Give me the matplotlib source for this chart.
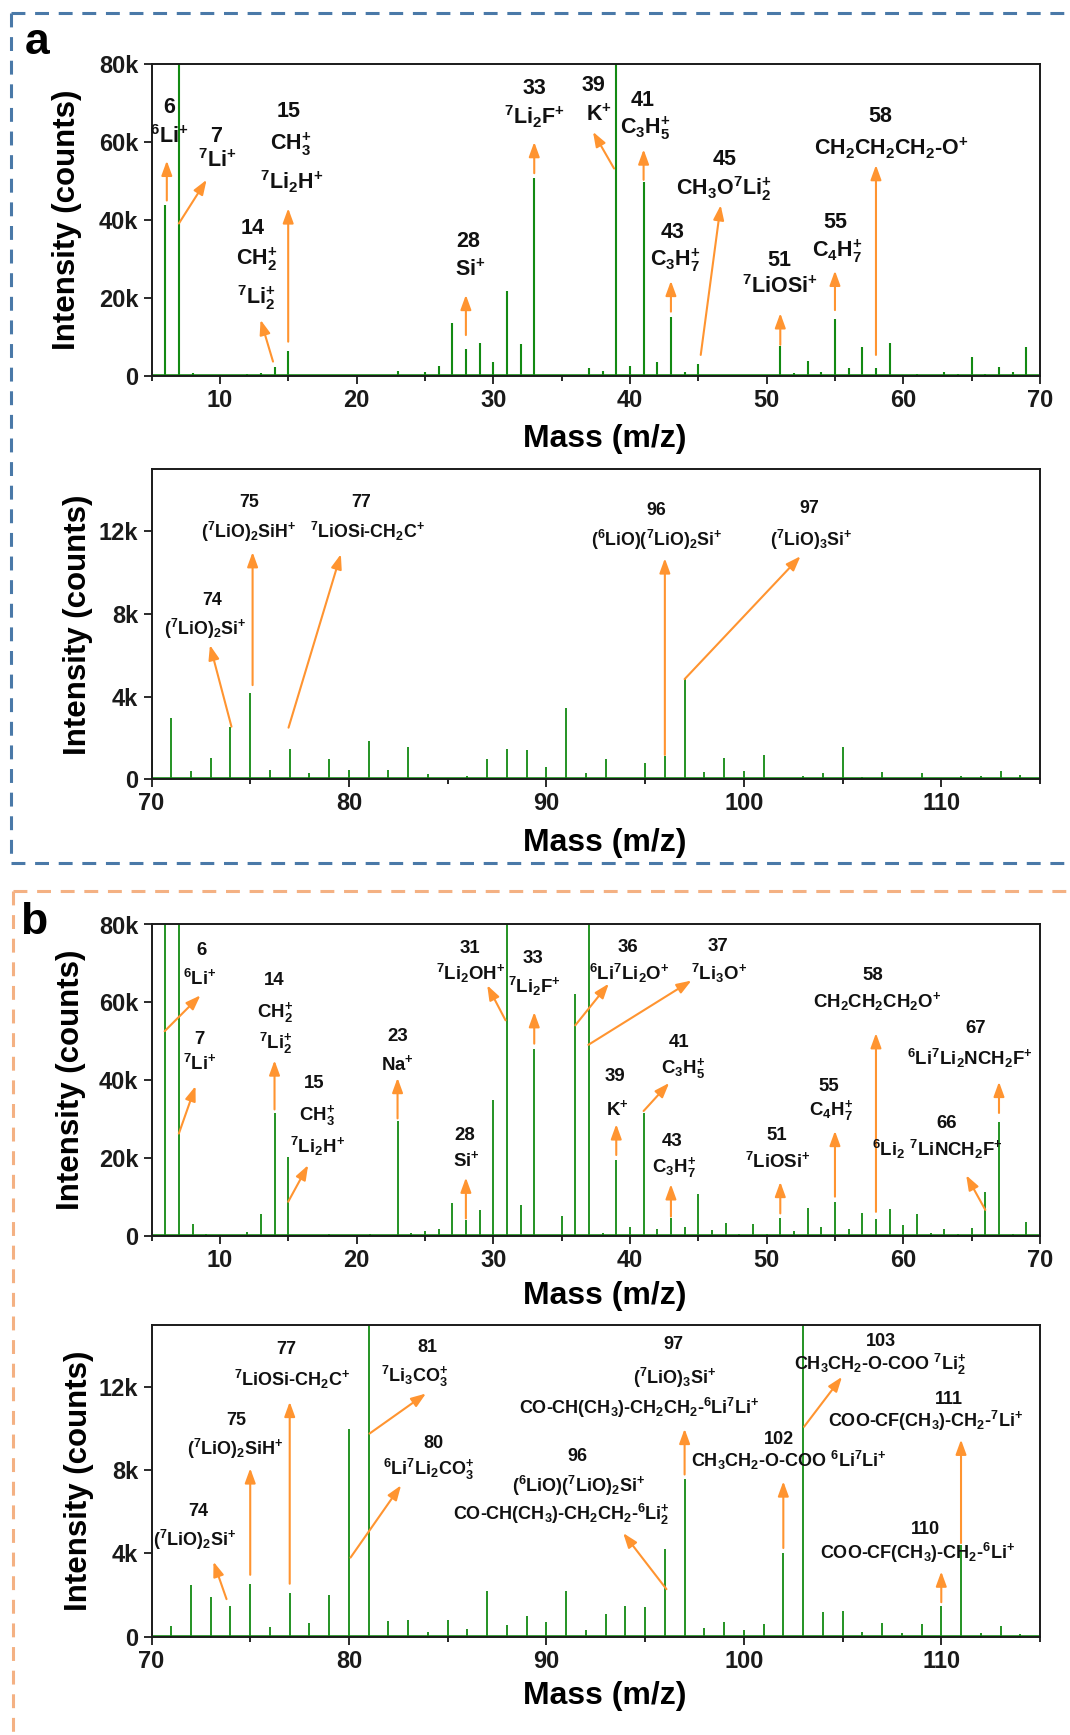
import matplotlib
matplotlib.use("Agg")
import matplotlib.pyplot as plt
from matplotlib.ticker import MultipleLocator, FuncFormatter
from matplotlib.lines import Line2D

plt.rcParams["font.family"] = ["Liberation Sans", "DejaVu Sans"]
plt.rcParams["font.weight"] = "bold"
plt.rcParams["mathtext.fontset"] = "custom"
plt.rcParams["mathtext.rm"] = "Liberation Sans:bold"
plt.rcParams["mathtext.bf"] = "Liberation Sans:bold"
plt.rcParams["mathtext.it"] = "Liberation Sans:bold"
plt.rcParams["mathtext.sf"] = "Liberation Sans:bold"
plt.rcParams["mathtext.default"] = "regular"
plt.rcParams["lines.scale_dashes"] = False

# ---------------------------------------------------------------- data
# (a) low-mass range, m/z 5-70 (counts; off-scale peaks exceed 80k)
a_low_mass = [6, 7, 8, 12, 13, 14, 15, 23, 25, 26, 27, 28, 29, 30, 31, 32, 33,
              37, 38, 39, 40, 41, 42, 43, 44, 45, 46, 47, 51, 52, 53, 54, 55,
              56, 57, 58, 59, 61, 63, 64, 65, 66, 67, 68, 69]
a_low_counts = [43800, 120000, 700, 500, 800, 2400, 6500, 1200, 900, 2600,
                13700, 7000, 8400, 3700, 21800, 8100, 50700, 2100, 1400,
                120000, 2600, 49800, 3500, 15200, 900, 3200, 300, 300, 7800,
                700, 3900, 900, 14700, 2100, 7500, 2000, 8400, 600, 1100, 400,
                4800, 500, 2400, 900, 7500]

# (a) high-mass range, m/z 70-115
a_high_mass = [70, 71, 72, 73, 74, 75, 76, 77, 78, 79, 80, 81, 82, 83, 84, 86,
               87, 88, 89, 90, 91, 92, 93, 95, 96, 97, 98, 99, 100, 101, 103,
               104, 105, 106, 107, 109, 111, 112, 113, 114]
a_high_counts = [1000, 2950, 400, 1050, 2550, 4180, 450, 1480, 320, 970, 450,
                 1850, 450, 1550, 260, 160, 970, 1460, 1420, 580, 3470, 290,
                 970, 770, 1130, 4850, 370, 1050, 400, 1160, 180, 290, 1550,
                 130, 350, 320, 180, 160, 420, 230]

# (b) low-mass range, m/z 5-70
b_low_mass = [6, 7, 8, 9, 12, 13, 14, 15, 16, 17, 18, 19, 20, 21, 22, 23, 24,
              25, 26, 27, 28, 29, 30, 31, 32, 33, 35, 36, 37, 38, 39, 40, 41,
              42, 43, 44, 45, 46, 47, 48, 49, 50, 51, 52, 53, 54, 55, 56, 57,
              58, 59, 60, 61, 62, 63, 64, 65, 66, 67, 68, 69]
b_low_counts = [120000, 120000, 3000, 400, 1100, 5600, 31500, 20200, 300, 300,
                400, 300, 300, 400, 300, 29600, 700, 1300, 1800, 8500, 4100,
                6700, 35000, 120000, 7900, 47900, 5200, 62200, 120000, 850,
                19500, 2400, 31700, 1800, 4500, 2400, 10800, 1500, 3400, 400,
                3200, 500, 4700, 1400, 7100, 2400, 8800, 1700, 5800, 4400,
                7000, 2800, 5600, 700, 1900, 400, 2100, 11400, 29300, 500, 3700]

# (b) high-mass range, m/z 70-115
b_high_mass = [70, 71, 72, 73, 74, 75, 76, 77, 78, 79, 80, 81, 82, 83, 84, 85,
               86, 87, 88, 89, 90, 91, 92, 93, 94, 95, 96, 97, 98, 99, 100,
               101, 102, 103, 104, 105, 106, 107, 108, 109, 110, 111, 112, 113,
               114]
b_high_counts = [300, 500, 2500, 1900, 1480, 2540, 480, 2090, 670, 2000, 10000,
                 20000, 750, 790, 240, 800, 370, 2200, 560, 1000, 700, 2200,
                 300, 1080, 1480, 1410, 4220, 7600, 400, 700, 320, 600, 4000,
                 20000, 1170, 1250, 200, 670, 160, 610, 1490, 4400, 160, 500,
                 100]

# ion assignments, one entry per labelled peak
a_low_ions = {
    6: [r"${}^{6}$Li$^{+}$"],
    7: [r"${}^{7}$Li$^{+}$"],
    14: [r"CH${}_{2}^{+}$", r"${}^{7}$Li${}_{2}^{+}$"],
    15: [r"CH${}_{3}^{+}$", r"${}^{7}$Li${}_{2}$H$^{+}$"],
    28: [r"Si$^{+}$"],
    33: [r"${}^{7}$Li${}_{2}$F$^{+}$"],
    39: [r"K$^{+}$"],
    41: [r"C${}_{3}$H${}_{5}^{+}$"],
    43: [r"C${}_{3}$H${}_{7}^{+}$"],
    45: [r"CH${}_{3}$O${}^{7}$Li${}_{2}^{+}$"],
    51: [r"${}^{7}$LiOSi$^{+}$"],
    55: [r"C${}_{4}$H${}_{7}^{+}$"],
    58: [r"CH${}_{2}$CH${}_{2}$CH${}_{2}$-O$^{+}$"],
}
a_high_ions = {
    74: [r"(${}^{7}$LiO)${}_{2}$Si$^{+}$"],
    75: [r"(${}^{7}$LiO)${}_{2}$SiH$^{+}$"],
    77: [r"${}^{7}$LiOSi-CH${}_{2}$C$^{+}$"],
    96: [r"(${}^{6}$LiO)(${}^{7}$LiO)${}_{2}$Si$^{+}$"],
    97: [r"(${}^{7}$LiO)${}_{3}$Si$^{+}$"],
}
b_low_ions = {
    6: [r"${}^{6}$Li$^{+}$"],
    7: [r"${}^{7}$Li$^{+}$"],
    14: [r"CH${}_{2}^{+}$", r"${}^{7}$Li${}_{2}^{+}$"],
    15: [r"CH${}_{3}^{+}$", r"${}^{7}$Li${}_{2}$H$^{+}$"],
    23: [r"Na$^{+}$"],
    28: [r"Si$^{+}$"],
    31: [r"${}^{7}$Li${}_{2}$OH$^{+}$"],
    33: [r"${}^{7}$Li${}_{2}$F$^{+}$"],
    36: [r"${}^{6}$Li${}^{7}$Li${}_{2}$O$^{+}$"],
    37: [r"${}^{7}$Li${}_{3}$O$^{+}$"],
    39: [r"K$^{+}$"],
    41: [r"C${}_{3}$H${}_{5}^{+}$"],
    43: [r"C${}_{3}$H${}_{7}^{+}$"],
    51: [r"${}^{7}$LiOSi$^{+}$"],
    55: [r"C${}_{4}$H${}_{7}^{+}$"],
    58: [r"CH${}_{2}$CH${}_{2}$CH${}_{2}$O$^{+}$"],
    66: [r"${}^{6}$Li${}_{2}$ ${}^{7}$LiNCH${}_{2}$F$^{+}$"],
    67: [r"${}^{6}$Li${}^{7}$Li${}_{2}$NCH${}_{2}$F$^{+}$"],
}
b_high_ions = {
    74: [r"(${}^{7}$LiO)${}_{2}$Si$^{+}$"],
    75: [r"(${}^{7}$LiO)${}_{2}$SiH$^{+}$"],
    77: [r"${}^{7}$LiOSi-CH${}_{2}$C$^{+}$"],
    80: [r"${}^{6}$Li${}^{7}$Li${}_{2}$CO${}_{3}^{+}$"],
    81: [r"${}^{7}$Li${}_{3}$CO${}_{3}^{+}$"],
    96: [r"(${}^{6}$LiO)(${}^{7}$LiO)${}_{2}$Si$^{+}$",
         r"CO-CH(CH${}_{3}$)-CH${}_{2}$CH${}_{2}$-${}^{6}$Li${}_{2}^{+}$"],
    97: [r"(${}^{7}$LiO)${}_{3}$Si$^{+}$",
         r"CO-CH(CH${}_{3}$)-CH${}_{2}$CH${}_{2}$-${}^{6}$Li${}^{7}$Li$^{+}$"],
    102: [r"CH${}_{3}$CH${}_{2}$-O-COO ${}^{6}$Li${}^{7}$Li$^{+}$"],
    103: [r"CH${}_{3}$CH${}_{2}$-O-COO ${}^{7}$Li${}_{2}^{+}$"],
    110: [r"COO-CF(CH${}_{3}$)-CH${}_{2}$-${}^{6}$Li$^{+}$"],
    111: [r"COO-CF(CH${}_{3}$)-CH${}_{2}$-${}^{7}$Li$^{+}$"],
}

# --------------------------------------------------------------- layout
# label placement: mass -> ([(x, y) per text line, mass number first],
#                            arrow tail (x, y), arrow head (x, y))
a_low_layout = {
    6: ([(6.26, 68900), (6.3, 61400)], (6.12, 45000), (6.12, 55200)),
    7: ([(9.74, 61500), (9.8, 55200)], (7.0, 39100), (9.03, 50300)),
    15: ([(15.0, 67800), (15.2, 59500), (15.25, 49800)], (15.0, 8800), (15.0, 43000)),
    14: ([(12.43, 37900), (12.7, 30000), (12.7, 20100)], (13.89, 3700), (12.98, 14400)),
    28: ([(28.2, 34400), (28.3, 27200)], (28.0, 10500), (28.0, 20800)),
    33: ([(33.0, 73800), (33.0, 66500)], (33.0, 52000), (33.0, 60000)),
    39: ([(37.35, 74400), (37.7, 66900)], (38.84, 53200), (37.3, 62600)),
    41: ([(40.9, 70600), (41.1, 63500)], (41.0, 50300), (41.0, 58100)),
    45: ([(46.9, 55600), (46.9, 48100)], (45.18, 5400), (46.64, 43800)),
    43: ([(43.1, 36800), (43.3, 29700)], (43.0, 16500), (43.0, 24400)),
    51: ([(50.95, 29600), (51.0, 22900)], (51.0, 8000), (51.0, 16100)),
    55: ([(55.0, 39300), (55.2, 31900)], (55.0, 16900), (55.0, 27000)),
    58: ([(58.3, 66500), (59.1, 58400)], (58.0, 5400), (58.0, 54100)),
}
a_high_layout = {
    74: ([(73.05, 8650), (72.7, 7300)], (74.05, 2550), (72.96, 6500)),
    75: ([(74.92, 13400), (74.9, 12000)], (75.12, 4560), (75.12, 11000)),
    77: ([(80.64, 13400), (80.95, 12000)], (76.94, 2500), (79.59, 10900)),
    96: ([(95.55, 13000), (95.57, 11600)], (96.0, 1180), (96.0, 10700)),
    97: ([(103.3, 13100), (103.4, 11600)], (97.0, 4850), (102.87, 10800)),
}
b_low_layout = {
    6: ([(8.65, 73300), (8.55, 66100)], (5.96, 52600), (8.58, 61800)),
    7: ([(8.48, 50400), (8.5, 44300)], (7.0, 26300), (8.22, 38500)),
    14: ([(13.94, 65600), (14.07, 57500), (14.07, 49400)], (14.0, 32500), (14.0, 45100)),
    15: ([(16.89, 39100), (17.09, 31000), (17.14, 22900)], (15.0, 8800), (16.46, 18200)),
    23: ([(23.0, 51300), (23.0, 44300)], (23.0, 30200), (23.0, 40600)),
    28: ([(27.92, 25900), (28.05, 19500)], (28.0, 4500), (28.0, 15000)),
    31: ([(28.3, 73800), (28.36, 67400)], (30.9, 55400), (29.56, 64400)),
    33: ([(32.94, 71200), (33.0, 64100)], (33.0, 49400), (33.0, 57500)),
    36: ([(39.84, 74200), (39.98, 67400)], (36.0, 54100), (38.45, 64800)),
    37: ([(46.46, 74400), (46.5, 67400)], (36.96, 49100), (44.5, 65600)),
    39: ([(38.94, 41000), (39.05, 32700)], (39.0, 20800), (39.0, 28700)),
    41: ([(43.6, 49800), (43.87, 43000)], (41.0, 32100), (42.87, 39300)),
    43: ([(43.1, 24200), (43.2, 17600)], (43.0, 5000), (43.0, 13300)),
    51: ([(50.77, 25900), (50.8, 19100)], (51.0, 5800), (51.0, 13900)),
    55: ([(54.54, 38300), (54.7, 32300)], (55.0, 10100), (55.0, 27000)),
    58: ([(57.75, 66900), (58.1, 60100)], (58.0, 6200), (58.0, 52100)),
    67: ([(65.32, 53200), (64.9, 45600)], (67.0, 31600), (67.0, 39600)),
    66: ([(63.14, 28900), (62.5, 22100)], (66.0, 6700), (64.6, 15600)),
}
b_high_layout = {
    74: ([(72.39, 6000), (72.2, 4630)], (73.8, 1800), (73.14, 3600)),
    75: ([(74.27, 10400), (74.25, 9040)], (75.0, 2970), (75.0, 8100)),
    77: ([(76.84, 13800), (77.13, 12400)], (77.0, 2540), (77.0, 11300)),
    81: ([(83.95, 13900), (83.35, 12500)], (81.04, 9770), (83.9, 11700)),
    80: ([(84.26, 9300), (84.04, 8030)], (80.08, 3800), (82.64, 7280)),
    96: ([(91.58, 8670), (91.63, 7230), (90.75, 5860)], (96.08, 2280), (93.89, 4980)),
    97: ([(96.42, 14060), (96.48, 12450), (94.7, 11000)], (97.0, 7800), (97.0, 10000)),
    102: ([(101.8, 9500), (102.3, 8500)], (102.0, 4260), (102.0, 7470)),
    103: ([(106.95, 14200), (106.9, 13100)], (103.05, 10100), (104.97, 12500)),
    111: ([(110.4, 11400), (109.2, 10360)], (111.0, 4500), (111.0, 9480)),
    110: ([(109.2, 5140), (108.8, 4000)], (110.0, 1650), (110.0, 3130)),
}

GREEN = "#138a13"
ORANGE = "#ff9430"
W, H = 1070, 1735

fig = plt.figure(figsize=(W / 100, H / 100), dpi=100)


def axes_box(top_px, bottom_px):
    left, right = 151.5, 1040.0
    return [left / W, 1 - bottom_px / H, (right - left) / W, (bottom_px - top_px) / H]


def kfmt(v, _):
    return "0" if v == 0 else f"{int(round(v / 1000))}k"


def draw_panel(box, mass, counts, ions, layout, xlim, ylim, xmajor, ymajor,
               fs_label, ylab_x, xlab_y, lw_peak):
    ax = fig.add_axes(box)
    ax.vlines(mass, 0, counts, color=GREEN, lw=lw_peak, zorder=2)
    ax.axhline(0, color=GREEN, lw=2.6, zorder=2.5)
    ax.set_xlim(*xlim)
    ax.set_ylim(*ylim)
    ax.xaxis.set_major_locator(MultipleLocator(xmajor))
    ax.xaxis.set_minor_locator(MultipleLocator(xmajor / 2))
    ax.yaxis.set_major_locator(MultipleLocator(ymajor))
    ax.yaxis.set_major_formatter(FuncFormatter(kfmt))
    ax.tick_params(which="major", direction="out", length=6, width=1.3,
                   labelsize=17, pad=3.5, colors="#1a1a1a")
    ax.tick_params(axis="x", which="minor", direction="out", length=3.5, width=1.2)
    for s in ax.spines.values():
        s.set_linewidth(1.4)
        s.set_color("#1a1a1a")
    ax.set_xlabel("Mass (m/z)", fontsize=23, fontweight="bold", va="center")
    ax.xaxis.set_label_coords(0.51, xlab_y)
    ax.set_ylabel("Intensity (counts)", fontsize=22.5, fontweight="bold", va="center")
    ax.yaxis.set_label_coords(ylab_x, 0.5)

    for m, lines in ions.items():
        pos, tail, head = layout[m]
        texts = [str(m)] + lines
        for (tx, ty), t in zip(pos, texts):
            ax.text(tx, ty, t, ha="center", va="center", fontsize=fs_label,
                    fontweight="bold", color="#111111", zorder=4)
        ax.annotate("", xy=head, xytext=tail,
                    arrowprops=dict(arrowstyle="-|>,head_length=0.55,head_width=0.2",
                                    color=ORANGE, lw=1.5, shrinkA=0, shrinkB=0,
                                    mutation_scale=16), zorder=3)
    return ax


draw_panel(axes_box(64, 376), a_low_mass, a_low_counts, a_low_ions, a_low_layout,
           (5, 70), (0, 80000), 10, 20000, 15.5, -0.0955, -0.202, 1.5)
draw_panel(axes_box(469.5, 779.3), a_high_mass, a_high_counts, a_high_ions, a_high_layout,
           (70, 115), (0, 15000), 10, 4000, 12.8, -0.083, -0.205, 1.3)
draw_panel(axes_box(924.5, 1236), b_low_mass, b_low_counts, b_low_ions, b_low_layout,
           (5, 70), (0, 80000), 10, 20000, 13.4, -0.091, -0.193, 1.3)
draw_panel(axes_box(1325, 1636.5), b_high_mass, b_high_counts, b_high_ions, b_high_layout,
           (70, 115), (0, 15000), 10, 4000, 13, -0.082, -0.192, 1.3)

# dashed frames around the two panels
def frame_line(xs, ys, color):
    fig.add_artist(Line2D([x / W for x in xs], [1 - y / H for y in ys], color=color,
                          lw=2.2, dashes=[10, 7], transform=fig.transFigure))

BLUE = "#4a79a8"
PEACH = "#f4b183"
frame_line([11, 1070], [13, 13], BLUE)
frame_line([11, 11], [13, 863], BLUE)
frame_line([11, 1070], [863, 863], BLUE)
frame_line([13, 1070], [891, 891], PEACH)
frame_line([13, 13], [891, 1735], PEACH)

fig.text(37 / W, 1 - 43 / H, "a", fontsize=32, fontweight="bold", ha="center", va="center")
fig.text(34 / W, 1 - 922 / H, "b", fontsize=32, fontweight="bold", ha="center", va="center")

fig.savefig("out.png", dpi=100, facecolor="white")
